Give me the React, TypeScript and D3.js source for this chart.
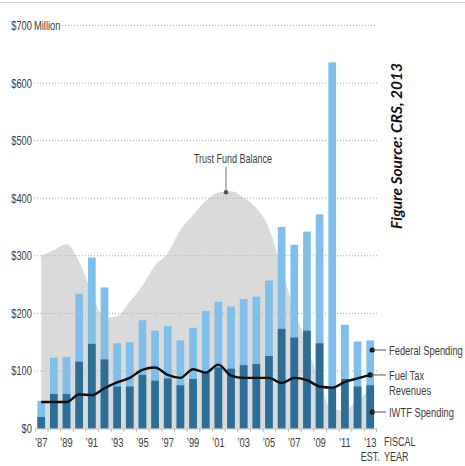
import React from "react";
import * as d3 from "d3";

// Fiscal years 1987–2013 (2013 estimated)
const years: number[] = d3.range(1987, 2014);

// Total spending (federal + IWTF), $ millions
const totalSpending: number[] = [
  48, 123, 124, 234, 297, 245, 148, 150, 188, 170, 178, 153, 175,
  204, 220, 212, 225, 229, 257, 350, 319, 342, 372, 636, 180, 151, 153,
];

// Inland Waterways Trust Fund spending, $ millions
const iwtfSpending: number[] = [
  20, 60, 60, 116, 147, 120, 73, 73, 93, 83, 87, 75, 86,
  98, 106, 104, 110, 112, 126, 173, 158, 170, 148, 72, 86, 73, 75,
];

// Fuel tax revenues, $ millions
const fuelTax: number[] = [
  46, 46, 46, 59, 58, 70, 80, 88, 102, 106, 93, 88, 103,
  97, 111, 92, 88, 88, 88, 79, 88, 84, 73, 71, 81, 87, 93,
];

// Trust fund balance, $ millions
const trustBalance: number[] = [
  300, 310, 320, 290, 236, 192, 195, 220, 248, 283, 305, 345, 371,
  395, 410, 412, 401, 383, 348, 277, 205, 145, 80, 33, 32, 50, 65,
];

const yTicks: number[] = [0, 100, 200, 300, 400, 500, 600, 700];
const xLabelYears: number[] = years.filter((y) => (y - 1987) % 2 === 0);

const W = 465;
const H = 466;
const FONT = "'Liberation Sans', Arial, sans-serif";
const TEXT = "#3d3d3d";
const LIGHT = "#7fbfe9";
const DARK = "#2d6e96";
const AREA = "#dadada";
const SQUEEZE = 0.72;

// Narrow label: regular sans squeezed horizontally
function T(props: {
  x: number;
  y: number;
  anchor?: "start" | "middle" | "end";
  size?: number;
  children: React.ReactNode;
}) {
  const { x, y, anchor = "start", size = 13, children } = props;
  return (
    <text
      transform={`translate(${x},${y}) scale(${SQUEEZE},1)`}
      textAnchor={anchor}
      dy="0.35em"
      fontFamily={FONT}
      fontSize={size}
      fill={TEXT}
    >
      {children}
    </text>
  );
}

export default function App() {
  const x = d3.scalePoint<number>().domain(years).range([41.2, 370.2]);
  const step = x.step();
  const barW = step * 0.61;
  const y = d3.scaleLinear().domain([0, 700]).range([428.5, 25.5]);

  const area = d3
    .area<number>()
    .x((_, i) => x(years[i])!)
    .y0(y(0))
    .y1((d) => y(d))
    .curve(d3.curveMonotoneX);

  const line = d3
    .line<number>()
    .x((_, i) => x(years[i])!)
    .y((d) => y(d))
    .curve(d3.curveMonotoneX);

  const gridX0 = 34;
  const gridX1 = 377;
  const lastX = x(2013)!;
  const peakYear = 2002;
  const peakIdx = years.indexOf(peakYear);

  const seriesLabels = [
    { cy: 350, onLine: false, lines: ["Federal Spending"] },
    { cy: y(fuelTax[fuelTax.length - 1]), onLine: true, lines: ["Fuel Tax", "Revenues"] },
    { cy: 412, onLine: false, lines: ["IWTF Spending"] },
  ];

  return (
    <div style={{ position: "absolute", left: 0, top: 0 }}>
      <svg width={W} height={H} style={{ display: "block", background: "#fff" }}>
        {/* top rule */}
        <line x1={0} x2={W} y1={2.5} y2={2.5} stroke="#d6d6d6" strokeWidth={1} />

        {/* trust fund balance area */}
        <path d={area(trustBalance) || ""} fill={AREA} />

        {/* dotted gridlines */}
        {yTicks
          .filter((t) => t > 0)
          .map((t) => (
            <line
              key={t}
              x1={t === 700 ? 62 : gridX0}
              x2={gridX1}
              y1={y(t)}
              y2={y(t)}
              stroke="#a9a9a9"
              strokeWidth={1}
              strokeDasharray="1,2"
            />
          ))}

        {/* y tick labels */}
        {yTicks.map((t) => (
          <T key={t} x={32} y={y(t)} anchor="end">
            {`$${t}`}
          </T>
        ))}
        <T x={34} y={y(700)}>
          Million
        </T>

        {/* stacked bars: total spending behind, IWTF spending in front */}
        {years.map((yr, i) => (
          <g key={yr}>
            <rect
              x={x(yr)! - barW / 2}
              y={y(totalSpending[i])}
              width={barW}
              height={y(0) - y(totalSpending[i])}
              fill={LIGHT}
            />
            <rect
              x={x(yr)! - barW / 2}
              y={y(iwtfSpending[i])}
              width={barW}
              height={y(0) - y(iwtfSpending[i])}
              fill={DARK}
            />
          </g>
        ))}

        {/* baseline and ticks */}
        <line x1={35} x2={377} y1={y(0) + 0.5} y2={y(0) + 0.5} stroke="#bdbdbd" strokeWidth={1} />
        {years.map((yr) => (
          <line
            key={yr}
            x1={x(yr)! - step / 2 + 0.5}
            x2={x(yr)! - step / 2 + 0.5}
            y1={y(0)}
            y2={y(0) + 3.5}
            stroke="#bdbdbd"
            strokeWidth={1}
          />
        ))}
        <line
          x1={lastX + step / 2}
          x2={lastX + step / 2}
          y1={y(0)}
          y2={y(0) + 3.5}
          stroke="#bdbdbd"
          strokeWidth={1}
        />

        {/* fuel tax revenue line */}
        <path d={line(fuelTax) || ""} fill="none" stroke="#111" strokeWidth={2.4} strokeLinejoin="round" />

        {/* x labels */}
        {xLabelYears.map((yr) => (
          <T key={yr} x={x(yr)!} y={442} anchor="middle">
            {`\u2019${String(yr).slice(2)}`}
          </T>
        ))}
        <T x={lastX} y={457} anchor="middle" size={12.5}>
          EST.
        </T>
        <T x={384} y={442} size={12.5}>
          FISCAL
        </T>
        <T x={384} y={457} size={12.5}>
          YEAR
        </T>

        {/* trust fund annotation */}
        <line
          x1={x(peakYear)! - 5}
          x2={x(peakYear)! - 5}
          y1={167}
          y2={y(trustBalance[peakIdx]) + 1}
          stroke="#777"
          strokeWidth={1}
        />
        <circle cx={x(peakYear)! - 5} cy={y(trustBalance[peakIdx]) + 1} r={2.3} fill="#555" />
        <T x={233} y={159} anchor="middle" size={12.5}>
          Trust Fund Balance
        </T>

        {/* series labels */}
        {seriesLabels.map((l, k) => {
          const dx = l.onLine ? lastX : lastX + 2;
          return (
            <g key={k}>
              <circle cx={dx} cy={l.cy} r={2.6} fill="#111" />
              <line x1={dx} x2={386} y1={l.cy} y2={l.cy} stroke="#555" strokeWidth={1} />
              {l.lines.map((s, j) => (
                <T key={s} x={389} y={l.cy + j * 15.7} size={13}>
                  {s}
                </T>
              ))}
            </g>
          );
        })}

        {/* source note */}
        <text
          transform="translate(402,146) rotate(-90)"
          textAnchor="middle"
          fontFamily="Lato, 'Noto Sans', sans-serif"
          fontWeight="bold"
          fontStyle="italic"
          fontSize={15.5}
          fill="#111"
        >
          Figure Source: CRS, 2013
        </text>
      </svg>
    </div>
  );
}
